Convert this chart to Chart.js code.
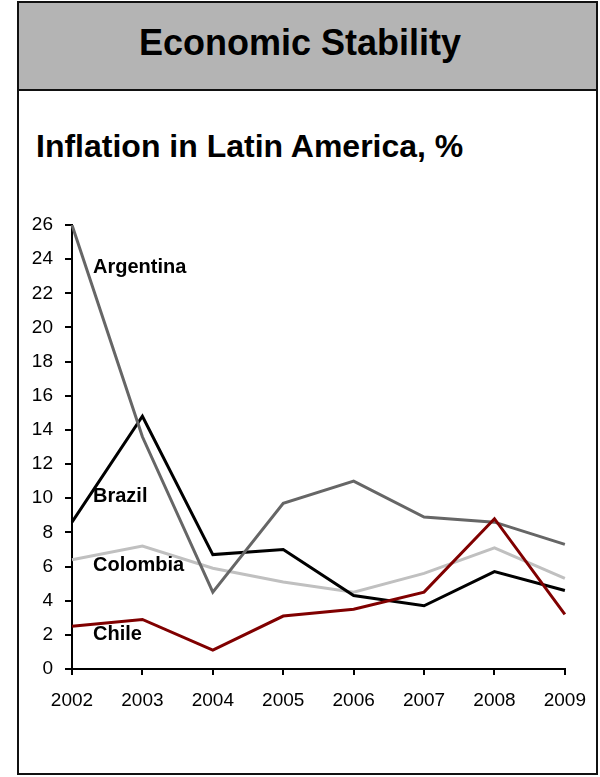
<!DOCTYPE html>
<html>
<head>
<meta charset="utf-8">
<script src="https://cdn.jsdelivr.net/npm/chart.js@4.4.1/dist/chart.umd.min.js"></script>
<style>
  html, body { margin: 0; padding: 0; background: #fff; }
  body { width: 600px; height: 777px; position: relative; overflow: hidden; font-family: "Liberation Sans", Arial, sans-serif; }
  .frame { position: absolute; left: 17px; top: 1px; width: 581px; height: 774px; box-sizing: border-box; border: 2px solid #111; }
  .header { position: absolute; left: 0; top: 0; right: 0; height: 86px; background: #b4b4b4; border-bottom: 2px solid #111; }
  .title { position: absolute; left: 0; width: 600px; top: 25px; line-height: 36px; font-size: 36px; font-weight: bold; text-align: center; color: #000; }
  .subtitle { position: absolute; left: 36px; top: 130px; line-height: 32px; font-size: 32px; font-weight: bold; color: #000; white-space: nowrap; }
  #chart { position: absolute; left: 0; top: 0; }
</style>
</head>
<body>
<div class="frame"><div class="header"></div></div>
<div class="title">Economic Stability</div>
<div class="subtitle">Inflation in Latin America, %</div>
<canvas id="chart" width="600" height="777"></canvas>
<script>
// data
const years = ['2002', '2003', '2004', '2005', '2006', '2007', '2008', '2009'];
const argentina = [26.0, 13.6, 4.5, 9.7, 11.0, 8.9, 8.6, 7.3];
const brazil = [8.6, 14.8, 6.7, 7.0, 4.3, 3.7, 5.7, 4.6];
const colombia = [6.4, 7.2, 5.9, 5.1, 4.5, 5.6, 7.1, 5.3];
const chile = [2.5, 2.9, 1.1, 3.1, 3.5, 4.5, 8.8, 3.2];

const yTicks = [0, 2, 4, 6, 8, 10, 12, 14, 16, 18, 20, 22, 24, 26];

// series names written inside the plot, anchored at the first year
const seriesNames = ['Argentina', 'Brazil', 'Colombia', 'Chile'];
const nameValues = [23.5, 10.1, 6.05, 2.05];

const FONT = '"Liberation Sans", Arial, sans-serif';

const seriesLabels = {
  id: 'seriesLabels',
  afterDatasetsDraw(chart) {
    const { ctx, scales: { x, y } } = chart;
    ctx.save();
    ctx.font = 'bold 20px ' + FONT;
    ctx.fillStyle = '#000';
    ctx.textAlign = 'left';
    ctx.textBaseline = 'middle';
    const left = x.getPixelForValue(0) + 21;
    seriesNames.forEach((name, i) => {
      ctx.fillText(name, left, y.getPixelForValue(nameValues[i]));
    });
    ctx.restore();
  },
};

function line(label, data, color) {
  return {
    label,
    data,
    borderColor: color,
    backgroundColor: color,
    borderWidth: 3,
    pointRadius: 0,
    tension: 0,
    fill: false,
  };
}

new Chart(document.getElementById('chart'), {
  type: 'line',
  data: {
    labels: years,
    // first dataset is painted last, so Chile sits on top
    datasets: [
      line('Chile', chile, '#800000'),
      line('Argentina', argentina, '#666666'),
      line('Brazil', brazil, '#000000'),
      line('Colombia', colombia, '#c0c0c0'),
    ],
  },
  options: {
    responsive: false,
    animation: false,
    devicePixelRatio: 1,
    layout: { padding: { top: 225, right: 34, bottom: 68, left: 0 } },
    plugins: {
      legend: { display: false },
      tooltip: { enabled: false },
    },
    scales: {
      x: {
        offset: false,
        afterFit(scale) { scale.height = 40; },
        grid: { offset: false, drawOnChartArea: false, drawTicks: true, tickLength: 6, color: '#000', lineWidth: 2 },
        border: { color: '#000', width: 2 },
        ticks: { color: '#000', padding: 14, maxRotation: 0, autoSkip: false, font: { family: FONT, size: 19 } },
      },
      y: {
        min: 0,
        max: 26,
        afterFit(scale) { scale.width = 72; },
        afterBuildTicks(scale) { scale.ticks = yTicks.map(v => ({ value: v })); },
        grid: { drawOnChartArea: false, drawTicks: true, tickLength: 7, color: '#000', lineWidth: 2 },
        border: { color: '#000', width: 2 },
        ticks: { color: '#000', padding: 12, font: { family: FONT, size: 19 } },
      },
    },
  },
  plugins: [seriesLabels],
});
</script>
</body>
</html>
